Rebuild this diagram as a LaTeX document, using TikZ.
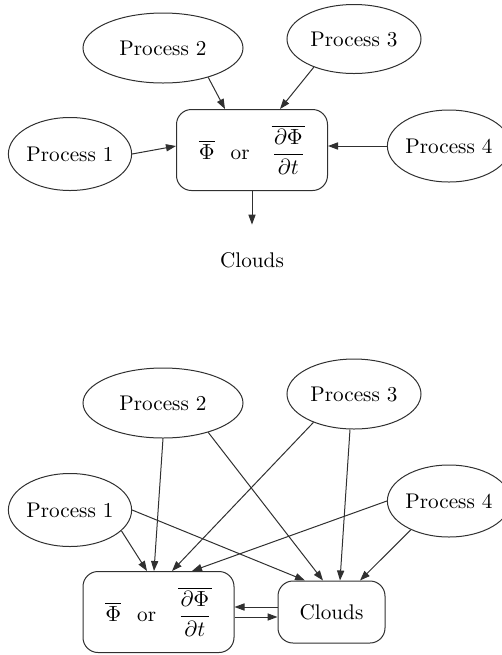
\documentclass[tikz,border=0pt]{standalone}
\usepackage{fontspec}
\usetikzlibrary{positioning,arrows.meta,shapes.geometric}
\definecolor{cLine}{HTML}{303030}

\begin{document}
\begin{tikzpicture}[x=0.5pt,y=-0.5pt,
    every node/.style={font=\fontsize{10.6}{13}\selectfont,inner sep=0pt},
    proc/.style={ellipse,draw=cLine,line width=0.5pt},
    state/.style={draw=cLine,line width=0.5pt,rounded corners=7.5pt},
    flow/.style={draw=cLine,line width=0.5pt,-{Triangle[length=5pt,width=3.6pt]}}]
    \useasboundingbox (0,0) rectangle (502,655);
    % top: single cloud output
    \node[proc,minimum width=80pt,minimum height=35pt] (p2) at (163,48) {Process 2};
    \node[proc,minimum width=67pt,minimum height=34.5pt] (p3) at (354,39) {Process 3};
    \node[proc,minimum width=57.5pt,minimum height=36.5pt] (p1) at (70,154) {Process 1};
    \node[proc,minimum width=56pt,minimum height=36pt] (p4) at (449,146) {Process 4};
    \node[state,minimum width=75.5pt,minimum height=40.5pt] (phi) at (252,150)
      {$\overline{\Phi}$\hspace{8pt}or\hspace{11pt}$\displaystyle\overline{\frac{\partial\Phi}{\partial t}}$};
    \node[minimum height=35pt] (clouds) at (252,260) {Clouds};
    \draw[flow] (p1.east) -- ([yshift=2pt]phi.west);
    \draw[flow] (p2.-33) -- ([xshift=-13.5pt]phi.north);
    \draw[flow] (p3.-145) -- ([xshift=14pt]phi.north);
    \draw[flow] (p4.west) -- ([yshift=2pt]phi.east);
    \draw[flow] (phi.south) -- (clouds.north);
    % bottom: clouds feed back
    \node[proc,minimum width=80pt,minimum height=35pt] (q2) at (163,403) {Process 2};
    \node[proc,minimum width=67pt,minimum height=35pt] (q3) at (354,394) {Process 3};
    \node[proc,minimum width=57.5pt,minimum height=36.5pt] (q1) at (70,510) {Process 1};
    \node[proc,minimum width=56pt,minimum height=36pt] (q4) at (449,501) {Process 4};
    \node[state,minimum width=75.5pt,minimum height=40.5pt] (phib) at (158.5,612)
      {$\overline{\Phi}$\hspace{8pt}or\hspace{11pt}$\displaystyle\overline{\frac{\partial\Phi}{\partial t}}$};
    \node[state,minimum width=53.5pt,minimum height=31pt] (cloudsb) at (331.5,612) {Clouds};
    \draw[flow] (q1.-22) -- ([xshift=-5.75pt]phib.north);
    \draw[flow] (q2.south) -- ([xshift=-2.25pt]phib.north);
    \draw[flow] (q3.-145) -- ([xshift=6.75pt]phib.north);
    \draw[flow] (q4.west) -- ([xshift=16.75pt]phib.north);
    \draw[flow] (q1.east) -- ([xshift=-13.25pt]cloudsb.north);
    \draw[flow] (q2.-33) -- ([xshift=-4.25pt]cloudsb.north);
    \draw[flow] ([xshift=-2pt]q3.south) -- ([xshift=4.25pt]cloudsb.north);
    \draw[flow] (q4.-143) -- ([xshift=14.25pt]cloudsb.north);
    \draw[flow] ([yshift=2.5pt]cloudsb.west) -- ([yshift=2.5pt]phib.east);
    \draw[flow] ([yshift=-2.5pt]phib.east) -- ([yshift=-2.5pt]cloudsb.west);
\end{tikzpicture}
\end{document}
